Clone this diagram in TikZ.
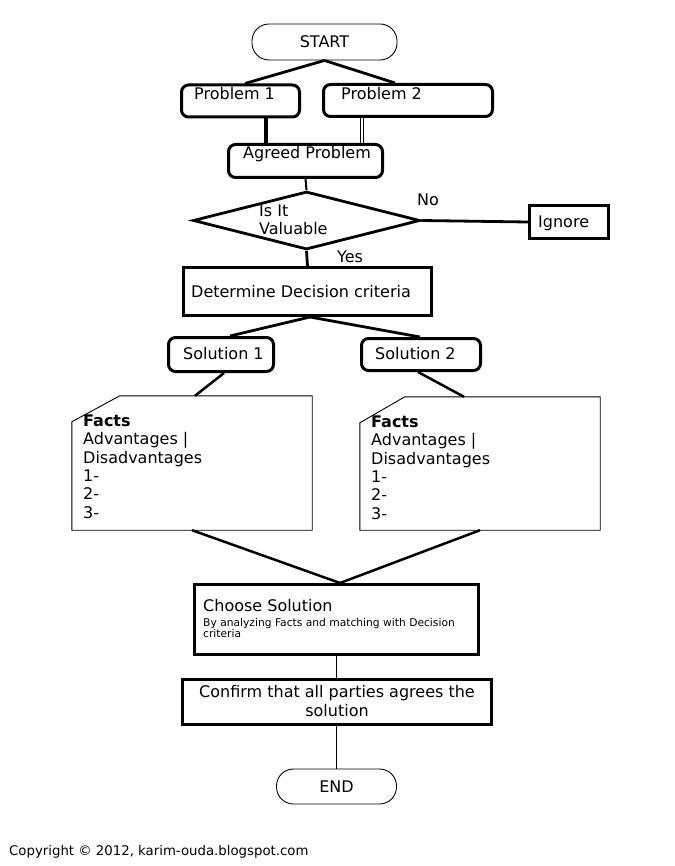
\documentclass[tikz,border=0pt]{standalone}
\usepackage{fontspec}
\setmainfont{DejaVu Sans}
\usetikzlibrary{shapes.geometric}

\tikzset{
  txt/.style={inner sep=0pt, font=\fontsize{16}{18.3}\selectfont},
  terminal/.style={draw, line width=0.9pt, rounded corners=17pt, inner sep=0pt},
  roundbox/.style={draw, line width=3pt, rounded corners=7pt, inner sep=0pt},
  sharpbox/.style={draw, line width=3pt, inner sep=0pt},
  wire/.style={line width=2.8pt},
  thinwire/.style={line width=0.9pt},
}

\begin{document}
\begin{tikzpicture}[x=1pt, y=-1pt]
    \useasboundingbox (0,0) rectangle (674,866);

    % Start and the two problems
    \node[terminal, minimum width=145pt, minimum height=36pt] (start) at (324.5,42) {};
    \node[txt] (starttext) at (324.5,42) {START};
    \node[roundbox, minimum width=118pt, minimum height=32pt] (prob1) at (240.5,101) {};
    \node[txt, anchor=base west] (prob1text) at (194,100) {Problem 1};
    \node[roundbox, minimum width=169pt, minimum height=32pt] (prob2) at (408,100.5) {};
    \node[txt, anchor=base west] (prob2text) at (341,100) {Problem 2};
    \draw[wire] (start.south) -- ([xshift=4.5pt]prob1.north);
    \draw[wire] (start.south) -- ([xshift=-13pt]prob2.north);

    % Agreed problem
    \node[roundbox, minimum width=154pt, minimum height=33pt] (agreed) at (305.5,161) {};
    \node[txt, anchor=base west] (agreedtext) at (243,159) {Agreed Problem};
    \draw[line width=3.5pt] ([xshift=25.5pt]prob1.south) -- ([xshift=25.5pt]prob1.south |- agreed.north);
    \draw[line width=0.8pt, double, double distance=2pt] ([xshift=-46pt]prob2.south) -- ([xshift=-46pt]prob2.south |- agreed.north);

    % Decision
    \node[draw, diamond, line width=2.8pt, inner sep=0pt, minimum width=227pt, minimum height=58pt] (valuable) at (306.5,220.5) {};
    \node[txt, anchor=base west, align=left] (valuabletext) at (259,235) {Is It\\Valuable};
    \draw[line width=2pt] (agreed.south) -- (valuable.north);
    \node[sharpbox, minimum width=79pt, minimum height=33pt] (ignore) at (569,222) {};
    \node[txt, anchor=base west] (ignoretext) at (538,228) {Ignore};
    \draw[wire] (valuable.east) -- (ignore.west);
    \node[txt, anchor=base west] (no) at (417,206) {No};

    % Criteria
    \node[sharpbox, minimum width=248pt, minimum height=48pt] (criteria) at (307.5,291.5) {};
    \node[txt, anchor=base west] (criteriatext) at (191,298) {Determine Decision criteria};
    \draw[wire] (valuable.south) -- (criteria.north);
    \node[txt, anchor=base west] (yes) at (337,263) {Yes};

    % Solutions
    \node[roundbox, minimum width=105pt, minimum height=34pt] (sol1) at (221,354.5) {};
    \node[txt, anchor=base west] (sol1text) at (183,359) {Solution 1};
    \node[roundbox, minimum width=119pt, minimum height=32pt] (sol2) at (421,354.5) {};
    \node[txt, anchor=base west] (sol2text) at (375,359) {Solution 2};
    \draw[wire] ([xshift=2.5pt]criteria.south) -- ([xshift=9pt]sol1.north);
    \draw[wire] ([xshift=2.5pt]criteria.south) -- ([xshift=-1pt]sol2.north);

    % Facts cards
    \node[minimum width=240pt, minimum height=134pt, inner sep=0pt] (facts1) at (192,463) {};
    \draw[thinwire] ([yshift=-26pt]facts1.north west) -- ([xshift=48pt]facts1.north west)
        -- (facts1.north east) -- (facts1.south east) -- (facts1.south west) -- cycle;
    \node[txt, anchor=base west, align=left] (facts1text) at (83,518)
        {\textbf{Facts}\\Advantages |\\Disadvantages\\1-\\2-\\3-};
    \node[minimum width=240pt, minimum height=133pt, inner sep=0pt] (facts2) at (480,463.5) {};
    \draw[thinwire] ([yshift=-26pt]facts2.north west) -- ([xshift=45pt]facts2.north west)
        -- (facts2.north east) -- (facts2.south east) -- (facts2.south west) -- cycle;
    \node[txt, anchor=base west, align=left] (facts2text) at (371,519)
        {\textbf{Facts}\\Advantages |\\Disadvantages\\1-\\2-\\3-};
    \draw[line width=2.5pt] ([xshift=3pt]sol1.south) -- ([xshift=3pt]facts1.north);
    \draw[line width=2.5pt] ([xshift=-3pt]sol2.south) -- ([xshift=-16pt]facts2.north);

    % Choose and confirm
    \node[sharpbox, minimum width=284pt, minimum height=70pt] (choose) at (336.5,619.5) {};
    \node[txt, anchor=base west] (choosetext) at (203,611) {Choose Solution};
    \node[inner sep=0pt, anchor=base west, align=left, font=\fontsize{10.7}{11.5}\selectfont] (choosenote) at (203,637.5)
        {By analyzing Facts and matching with Decision\\criteria};
    \draw[line width=2.5pt] (facts1.south) -- ([xshift=3.5pt]choose.north);
    \draw[line width=2.5pt] (facts2.south) -- ([xshift=3.5pt]choose.north);
    \node[sharpbox, minimum width=309pt, minimum height=45pt] (confirm) at (336.5,702) {};
    \node[txt, anchor=base, align=center] (confirmtext) at (337,716)
        {Confirm that all parties agrees the\\solution};
    \draw[thinwire] (choose.south) -- (confirm.north);

    % End
    \node[terminal, minimum width=120pt, minimum height=35pt] (finish) at (336.5,786.5) {};
    \node[txt] (finishtext) at (336.5,786.5) {END};
    \draw[thinwire] (confirm.south) -- (finish.north);

    \node[inner sep=0pt, anchor=base west, font=\fontsize{13.3}{16}\selectfont] (copyright) at (9,855)
        {Copyright © 2012, karim-ouda.blogspot.com};
\end{tikzpicture}
\end{document}
